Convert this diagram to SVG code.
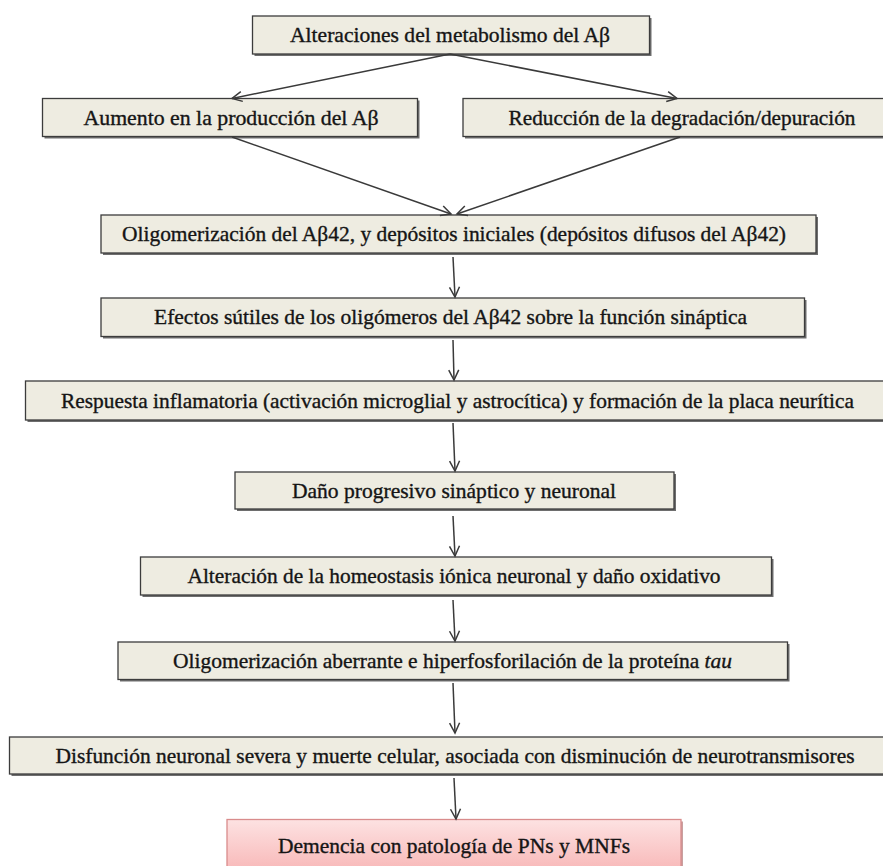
<svg xmlns="http://www.w3.org/2000/svg" width="883" height="866" viewBox="0 0 883 866">
<defs>
<style>
.box rect.b{fill:#eeece1;stroke:#3c3c3c;stroke-width:1.3}
.box rect.s{fill:#6e6e6e}
.pink rect.b{fill:url(#pg);stroke:#d98c8c;stroke-width:1.3}
.pink rect.s{fill:#c9a0a0}
text{font-family:'Liberation Serif','Times New Roman',Times,serif;font-size:21px;fill:#151515;stroke:#151515;stroke-width:0.35;text-anchor:middle}
.c line{stroke:#3a3a3a;stroke-width:1.5;marker-end:url(#ah)}
</style>
<linearGradient id="pg" x1="0" y1="0" x2="0" y2="1">
<stop offset="0" stop-color="#fde2e2"/>
<stop offset="1" stop-color="#f7b1b1"/>
</linearGradient>
<marker id="ah" markerUnits="userSpaceOnUse" markerWidth="14" markerHeight="14" refX="10" refY="5" orient="auto" overflow="visible">
<path d="M0,0 L10,5 L0,10" fill="none" stroke="#3a3a3a" stroke-width="1.5"/>
</marker>
</defs>
<rect width="883" height="866" fill="#ffffff"/>
<g font-family="Liberation Serif, serif">
<g id="n1" class="box"><rect class="s" x="254.5" y="18" width="397" height="38"/><rect class="b" x="252.5" y="16" width="397" height="38"/><text x="450" y="42" textLength="320" lengthAdjust="spacingAndGlyphs">Alteraciones del metabolismo del Aβ</text></g>
<g id="n2" class="box"><rect class="s" x="44.5" y="100.5" width="375" height="38"/><rect class="b" x="42.5" y="98.5" width="375" height="38"/><text x="231" y="124.5" textLength="295" lengthAdjust="spacingAndGlyphs">Aumento en la producción del Aβ</text></g>
<g id="n3" class="box"><rect class="s" x="465" y="100.5" width="425" height="38"/><rect class="b" x="463" y="98.5" width="425" height="38"/><text x="682" y="124.5" textLength="347" lengthAdjust="spacingAndGlyphs">Reducción de la degradación/depuración</text></g>
<g id="n4" class="box"><rect class="s" x="103" y="217" width="715" height="38"/><rect class="b" x="101" y="215" width="715" height="38"/><text x="454" y="241" textLength="664" lengthAdjust="spacingAndGlyphs">Oligomerización del Aβ42, y depósitos iniciales (depósitos difusos del Aβ42)</text></g>
<g id="n5" class="box"><rect class="s" x="103" y="300" width="703.5" height="38.5"/><rect class="b" x="101" y="298" width="703.5" height="38.5"/><text x="450.5" y="324" textLength="593" lengthAdjust="spacingAndGlyphs">Efectos sútiles de los oligómeros del Aβ42 sobre la función sináptica</text></g>
<g id="n6" class="box"><rect class="s" x="27.5" y="383" width="870" height="39"/><rect class="b" x="25.5" y="381" width="870" height="39"/><text x="457.5" y="407.5" textLength="793" lengthAdjust="spacingAndGlyphs">Respuesta inflamatoria (activación microglial y astrocítica) y formación de la placa neurítica</text></g>
<g id="n7" class="box"><rect class="s" x="237" y="474" width="439" height="37"/><rect class="b" x="235" y="472" width="439" height="37"/><text x="454" y="497.5" textLength="324" lengthAdjust="spacingAndGlyphs">Daño progresivo sináptico y neuronal</text></g>
<g id="n8" class="box"><rect class="s" x="142.5" y="559" width="631" height="38"/><rect class="b" x="140.5" y="557" width="631" height="38"/><text x="454" y="583" textLength="533" lengthAdjust="spacingAndGlyphs">Alteración de la homeostasis iónica neuronal y daño oxidativo</text></g>
<g id="n9" class="box"><rect class="s" x="120" y="644" width="669.5" height="37.5"/><rect class="b" x="118" y="642" width="669.5" height="37.5"/><text x="452.5" y="668" textLength="559" lengthAdjust="spacingAndGlyphs">Oligomerización aberrante e hiperfosforilación de la proteína <tspan font-style="italic">tau</tspan></text></g>
<g id="n10" class="box"><rect class="s" x="11.5" y="739" width="880" height="37"/><rect class="b" x="9.5" y="737" width="880" height="37"/><text x="455" y="762.5" textLength="799" lengthAdjust="spacingAndGlyphs">Disfunción neuronal severa y muerte celular, asociada con disminución de neurotransmisores</text></g>
<g id="n11" class="pink"><rect class="s" x="229" y="821.5" width="454" height="60"/><rect class="b" x="227" y="819.5" width="454" height="60"/><text x="454" y="853" textLength="352" lengthAdjust="spacingAndGlyphs">Demencia con patología de PNs y MNFs</text></g>
</g>
<g id="connectors" class="c">
<line x1="450" y1="54" x2="232" y2="98.5"/>
<line x1="450" y1="54" x2="677" y2="98.5"/>
<line x1="232" y1="137" x2="451" y2="214"/>
<line x1="680" y1="137" x2="457" y2="214"/>
<line x1="453" y1="257" x2="455" y2="297"/>
<line x1="453" y1="340" x2="454" y2="380"/>
<line x1="453" y1="423" x2="455" y2="471"/>
<line x1="453" y1="516" x2="455" y2="556"/>
<line x1="453" y1="600" x2="455" y2="641"/>
<line x1="453" y1="683" x2="455" y2="733"/>
<line x1="454" y1="778" x2="456" y2="819"/>
</g>
</svg>
